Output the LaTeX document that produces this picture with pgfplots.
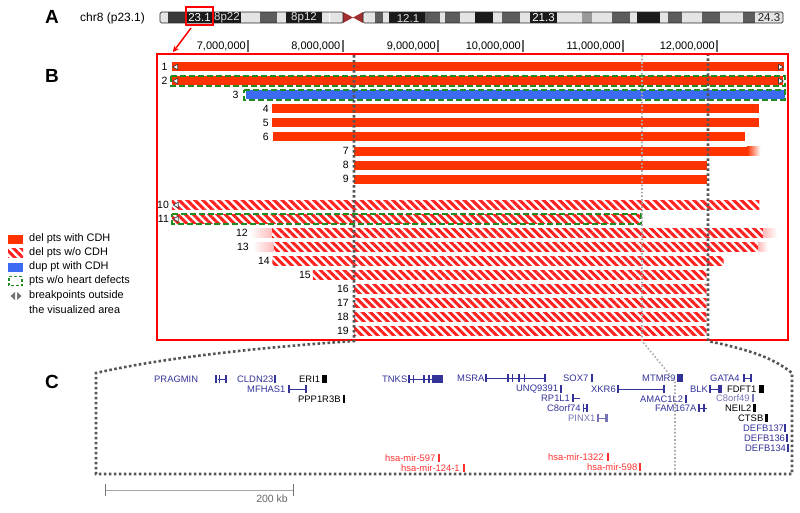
\documentclass[border=0pt]{standalone}
\usepackage{pgfplots}
\pgfplotsset{compat=1.18}
\usetikzlibrary{patterns.meta,arrows.meta}
\usepackage{fontspec}
\setmainfont{Liberation Sans}
\definecolor{bred}{HTML}{FF3300}
\definecolor{hred}{HTML}{FF2020}
\definecolor{bblue}{HTML}{3A6BF0}
\definecolor{dgreen}{HTML}{1E8C1E}
\definecolor{gblue}{HTML}{333399}
\definecolor{gpurp}{HTML}{7474B4}
\definecolor{mred}{HTML}{FF3030}
\definecolor{dotd}{HTML}{555555}
\definecolor{dotl}{HTML}{AAAAAA}
\definecolor{ilight}{HTML}{E4E4E4}
\definecolor{igray}{HTML}{5C5C5C}
\definecolor{idark}{HTML}{3A3A3A}
\definecolor{iblack}{HTML}{1A1A1A}
\definecolor{imid}{HTML}{9A9A9A}
\definecolor{cenred}{HTML}{A03030}
\tikzset{hatch/.style={draw=none, fill=white, postaction={pattern={Lines[angle=-45,distance=5.6pt,line width=3pt]}, pattern color=hred}}}
\pgfplotsset{canvas/.style={at={(0,0)}, anchor=south west, scale only axis, width=800pt, height=512pt, hide axis, clip=false, y dir=reverse}}
\newcommand{\gf}{\fontsize{9.4}{10}\selectfont}
\newcommand{\rf}{\fontsize{10.5}{12}\selectfont}
\newcommand{\lf}{\fontsize{10.9}{12}\selectfont}
\newcommand{\tf}{\fontsize{11}{12}\selectfont}
\newcommand{\chband}[3]{\addplot[#3, line width=11pt] coordinates {(#1,17.5) (#2,17.5)};}
\newcommand{\GB}[4]{\addplot[#4, line width=8pt] coordinates {(#1,#3) (#2,#3)};}
\newcommand{\GL}[4]{\addplot[#4, line width=0.8pt] coordinates {(#1,#3) (#2,#3)};}
\newcommand{\GT}[4]{\node[anchor=west, inner sep=0, text=#3, font=\gf] at (axis cs:#1,#2) {#4};}
\newcommand{\TK}[3]{\draw[black!60, line width=1.8pt] (axis cs:#1,40) -- (axis cs:#1,52);
  \node[anchor=east, inner sep=0, font=\tf] at (axis cs:#2,46) {#3};}
\newcommand{\RL}[3]{\node[anchor=east, inner sep=0, font=\rf] at (axis cs:#1,#2) {#3};}
\begin{document}
\begin{tikzpicture}
% ===== canvas background (pixel coordinates) =====
\begin{axis}[canvas, xmin=0, xmax=800, ymin=0, ymax=512]
\path (axis cs:0,0) rectangle (axis cs:800,512);
\node[font=\bfseries\fontsize{19}{19}\selectfont] at (axis cs:52,17) {A};
\node[font=\bfseries\fontsize{19}{19}\selectfont] at (axis cs:52,76) {B};
\node[font=\bfseries\fontsize{19}{19}\selectfont] at (axis cs:52,382) {C};
\node[anchor=west, inner sep=0, font=\fontsize{12}{14}\selectfont] at (axis cs:80,18) {chr8 (p23.1)};
% ideogram
\chband{160}{168}{ilight}
\chband{168}{186}{idark}
\chband{186}{213}{iblack}
\chband{213}{241}{iblack}
\chband{241}{260}{ilight}
\chband{260}{277}{igray}
\chband{277}{286}{ilight}
\chband{286}{322}{iblack}
\chband{322}{329}{ilight}
\chband{330}{343}{ilight}
\chband{363}{375}{ilight}
\chband{375}{383}{igray}
\chband{383}{389}{ilight}
\chband{389}{425}{iblack}
\chband{425}{440}{igray}
\chband{440}{445}{ilight}
\chband{445}{460}{igray}
\chband{460}{475}{ilight}
\chband{475}{493}{iblack}
\chband{493}{502}{ilight}
\chband{502}{520}{igray}
\chband{520}{530}{ilight}
\chband{530}{557}{iblack}
\chband{557}{582}{ilight}
\chband{582}{592}{imid}
\chband{592}{612}{ilight}
\chband{612}{630}{igray}
\chband{630}{637}{ilight}
\chband{637}{660}{iblack}
\chband{660}{668}{ilight}
\chband{668}{682}{igray}
\chband{682}{702}{ilight}
\chband{702}{720}{igray}
\chband{720}{743}{ilight}
\chband{743}{755}{igray}
\chband{755}{783}{ilight}
\addplot[fill=cenred, draw=none] coordinates {(343,12) (353,17.5) (343,23)} --cycle;
\addplot[fill=cenred, draw=none] coordinates {(363,12) (353,17.5) (363,23)} --cycle;
\draw[black!85, line width=0.7pt, rounded corners=1.5pt] (axis cs:160,12) rectangle (axis cs:343,23);
\draw[black!85, line width=0.7pt, rounded corners=1.5pt] (axis cs:363,12) rectangle (axis cs:783,23);
\node[text=white, inner sep=0, font=\fontsize{11.5}{12}\selectfont] at (axis cs:199.5,18) {23.1};
\node[text=black!12, inner sep=0, font=\fontsize{11.5}{12}\selectfont] at (axis cs:227,18) {8p22};
\node[text=black!12, inner sep=0, font=\fontsize{11.5}{12}\selectfont] at (axis cs:304,18) {8p12};
\node[text=black!12, inner sep=0, font=\fontsize{11.5}{12}\selectfont] at (axis cs:408,18) {12.1};
\node[text=white, inner sep=0, font=\fontsize{11.5}{12}\selectfont] at (axis cs:543.5,18) {21.3};
\node[text=black!85, inner sep=0, font=\fontsize{11.5}{12}\selectfont] at (axis cs:769,18) {24.3};
\draw[red, line width=1.5pt] (axis cs:186,7) rectangle (axis cs:213,25);
\draw[red, line width=1.5pt, -{Stealth[length=6pt,width=6pt]}] (axis cs:191,28) -- (axis cs:173,52);
% position ticks
\TK{248.3}{246}{7,000,000}
\TK{342.7}{340.5}{8,000,000}
\TK{438}{436}{9,000,000}
\TK{523}{521}{10,000,000}
\TK{623}{621}{11,000,000}
\TK{717}{715}{12,000,000}
% legend
\addplot[bred, line width=9pt] coordinates {(8,239) (23,239)};
\addplot[hatch] coordinates {(8,248) (23,248) (23,257) (8,257)} --cycle;
\addplot[bblue, line width=9pt] coordinates {(8,267) (23,267)};
\addplot[draw=dgreen, line width=1.3pt, dash pattern=on 3pt off 2pt] coordinates {(9,276.5) (22,276.5) (22,285.5) (9,285.5)} --cycle;
\addplot[fill=black!55, draw=none] coordinates {(15,292) (15,300) (10.5,296)} --cycle;
\addplot[fill=black!55, draw=none] coordinates {(17,292) (17,300) (21.5,296)} --cycle;
\node[anchor=west, inner sep=0, font=\lf] at (axis cs:29,239) {del pts with CDH};
\node[anchor=west, inner sep=0, font=\lf] at (axis cs:29,253) {del pts w/o CDH};
\node[anchor=west, inner sep=0, font=\lf] at (axis cs:29,267) {dup pt with CDH};
\node[anchor=west, inner sep=0, font=\lf] at (axis cs:29,281) {pts w/o heart defects};
\node[anchor=west, inner sep=0, font=\lf] at (axis cs:29,296) {breakpoints outside};
\node[anchor=west, inner sep=0, font=\lf] at (axis cs:29,310) {the visualized area};
% panel C genes
\GT{154}{379}{gblue}{PRAGMIN}
\GT{237}{379}{gblue}{CLDN23}
\GT{299}{379}{black}{ERI1}
\GT{247}{389}{gblue}{MFHAS1}
\GT{298}{399}{black}{PPP1R3B}
\GT{382}{379}{gblue}{TNKS}
\GT{457}{378}{gblue}{MSRA}
\GT{563}{378}{gblue}{SOX7}
\GT{516}{389}{gblue}{UNQ9391}
\GT{541}{398}{gblue}{RP1L1}
\GT{547}{408}{gblue}{C8orf74}
\GT{568}{418}{gpurp}{PINX1}
\GT{591}{389}{gblue}{XKR6}
\GT{642}{378}{gblue}{MTMR9}
\GT{640}{399}{gblue}{AMAC1L2}
\GT{655}{408}{gblue}{FAM167A}
\GT{690}{389}{gblue}{BLK}
\GT{710}{378}{gblue}{GATA4}
\GT{727}{389}{black}{FDFT1}
\GT{716}{398}{gpurp}{C8orf49}
\GT{725}{408}{black}{NEIL2}
\GT{738}{418}{black}{CTSB}
\GT{743}{428}{gblue}{DEFB137}
\GT{744}{438}{gblue}{DEFB136}
\GT{745}{448}{gblue}{DEFB134}
\GT{385}{458}{mred}{hsa-mir-597}
\GT{401}{468}{mred}{hsa-mir-124-1}
\GT{548}{457}{mred}{hsa-mir-1322}
\GT{587}{467}{mred}{hsa-mir-598}
% gene glyphs
\GB{215}{217}{379}{gblue}\GB{218.5}{220}{379}{gblue}\GL{218}{226}{379}{gblue}\GB{225}{227}{379}{gblue}
\GB{274}{276}{379}{gblue}
\GB{322}{327}{379}{black}
\GL{288}{306}{389}{gblue}\GB{288}{290}{389}{gblue}\GB{305}{307}{389}{gblue}
\GB{343}{345}{399}{black}
\GL{408}{443}{379}{gblue}\GB{408}{410}{379}{gblue}\GB{413}{414}{379}{gblue}\GB{423}{425}{379}{gblue}\GB{428}{430}{379}{gblue}\GB{432}{443}{379}{gblue}
\GL{485}{545}{378}{gblue}\GB{485}{487}{378}{gblue}\GB{507}{509}{378}{gblue}\GB{512}{513}{378}{gblue}\GB{518}{520}{378}{gblue}\GB{524}{525}{378}{gblue}\GB{544}{546}{378}{gblue}
\GB{591}{593}{378}{gblue}
\GB{560}{562}{389}{gblue}
\GL{572}{580}{398}{gblue}\GB{572}{574}{398}{gblue}
\GL{583}{587}{408}{gblue}\GB{583}{584}{408}{gblue}\GB{586}{587.5}{408}{gblue}
\GL{597}{608}{418}{gpurp}\GB{597}{598.5}{418}{gpurp}\GB{605}{608}{418}{gpurp}
\GL{617}{665}{389}{gblue}\GB{617}{619}{389}{gblue}\GB{663}{665}{389}{gblue}
\GB{677}{683}{378}{gblue}
\GB{685}{686.5}{399}{gblue}
\GL{698}{707}{408}{gblue}\GB{698}{699.5}{408}{gblue}\GB{703}{705}{408}{gblue}
\GL{709}{722}{389}{gblue}\GB{709}{710.5}{389}{gblue}\GB{718}{722}{389}{gblue}
\GL{743}{752}{378}{gblue}\GB{743}{745}{378}{gblue}\GB{750}{752}{378}{gblue}
\GB{759}{764}{389}{black}
\GB{752}{753.5}{398}{gpurp}
\GB{753}{756}{408}{black}
\GB{765}{768}{418}{black}
\GB{784}{785.5}{428}{gblue}
\GB{786}{787.5}{438}{gblue}
\GB{787}{788.5}{448}{gblue}
\GB{438}{439.5}{458}{mred}
\GB{463}{464.5}{468}{mred}
\GB{607}{608.5}{457}{mred}
\GB{639}{640.5}{467}{mred}
% scale bar
\draw[black!35, line width=0.6pt] (axis cs:105,490) -- (axis cs:293,490);
\draw[black!55, line width=0.8pt] (axis cs:105,484) -- (axis cs:105,496);
\draw[black!55, line width=0.8pt] (axis cs:293,484) -- (axis cs:293,496);
\node[anchor=east, inner sep=0, text=black!60, font=\fontsize{10.5}{12}\selectfont] at (axis cs:288,499) {200 kb};
\end{axis}
% ===== panel B data (x in Mb, y in rows) =====
\begin{axis}[canvas, xmin=4.361702, xmax=12.872340, ymin=-3.785714, ymax=32.785714]
\addplot[bred, line width=9pt] coordinates {(6.19,1) (12.70,1)};
\addplot[bred, line width=9pt] coordinates {(6.19,2) (12.69,2)};
\addplot[bblue, line width=9pt] coordinates {(6.98,3) (12.71,3)};
\addplot[bred, line width=9pt] coordinates {(7.255,4) (12.44,4)};
\addplot[bred, line width=9pt] coordinates {(7.255,5) (12.44,5)};
\addplot[bred, line width=9pt] coordinates {(7.27,6) (12.29,6)};
\addplot[bred, line width=9pt] coordinates {(8.13,7) (12.31,7)};
\addplot[draw=none, left color=bred, right color=white] coordinates {(12.31,6.68) (12.45,6.68) (12.45,7.32) (12.31,7.32)} --cycle;
\addplot[bred, line width=9pt] coordinates {(8.13,8) (11.88,8)};
\addplot[bred, line width=9pt] coordinates {(8.13,9) (11.88,9)};
\addplot[hatch] coordinates {(6.19,10.537) (12.44,10.537) (12.44,11.177) (6.19,11.177)} --cycle;
\addplot[hatch] coordinates {(6.19,11.537) (11.17,11.537) (11.17,12.177) (6.19,12.177)} --cycle;
\addplot[hatch] coordinates {(7.255,12.537) (12.48,12.537) (12.48,13.177) (7.255,13.177)} --cycle;
\addplot[draw=none, left color=white, right color=hred!30] coordinates {(7.02,12.537) (7.255,12.537) (7.255,13.177) (7.02,13.177)} --cycle;
\addplot[draw=none, left color=hred!30, right color=white] coordinates {(12.48,12.537) (12.63,12.537) (12.63,13.177) (12.48,13.177)} --cycle;
\addplot[hatch] coordinates {(7.27,13.537) (12.43,13.537) (12.43,14.177) (7.27,14.177)} --cycle;
\addplot[draw=none, left color=white, right color=hred!30] coordinates {(7.05,13.537) (7.27,13.537) (7.27,14.177) (7.05,14.177)} --cycle;
\addplot[draw=none, left color=hred!30, right color=white] coordinates {(12.43,13.537) (12.53,13.537) (12.53,14.177) (12.43,14.177)} --cycle;
\addplot[hatch] coordinates {(7.26,14.537) (12.06,14.537) (12.06,15.177) (7.26,15.177)} --cycle;
\addplot[hatch] coordinates {(7.69,15.537) (11.88,15.537) (11.88,16.177) (7.69,16.177)} --cycle;
\addplot[hatch] coordinates {(8.13,16.537) (11.88,16.537) (11.88,17.177) (8.13,17.177)} --cycle;
\addplot[hatch] coordinates {(8.13,17.537) (11.88,17.537) (11.88,18.177) (8.13,18.177)} --cycle;
\addplot[hatch] coordinates {(8.13,18.537) (11.88,18.537) (11.88,19.177) (8.13,19.177)} --cycle;
\addplot[hatch] coordinates {(8.13,19.537) (11.88,19.537) (11.88,20.177) (8.13,20.177)} --cycle;
% patients without heart defects
\addplot[draw=dgreen, line width=2.2pt, dash pattern=on 6pt off 3pt] coordinates {(6.18,1.64) (12.71,1.64) (12.71,2.36) (6.18,2.36)} --cycle;
\addplot[draw=dgreen, line width=2.2pt, dash pattern=on 6pt off 3pt] coordinates {(6.96,2.64) (12.71,2.64) (12.71,3.36) (6.96,3.36)} --cycle;
\addplot[draw=dgreen, line width=2.2pt, dash pattern=on 6pt off 3pt] coordinates {(6.195,11.497) (11.18,11.497) (11.18,12.217) (6.195,12.217)} --cycle;
% breakpoints outside area
\addplot[only marks, mark=triangle*, mark size=3.3pt, mark options={rotate=90, fill=white, draw=black!75, line width=0.7pt}] coordinates {(6.235,1) (6.235,2) (6.24,10.857) (6.24,11.857)};
\addplot[only marks, mark=triangle*, mark size=3.3pt, mark options={rotate=-90, fill=white, draw=black!75, line width=0.7pt}] coordinates {(12.66,1) (12.66,2)};
% row labels
\RL{6.145}{1}{1}
\RL{6.145}{2}{2}
\RL{6.9}{3}{3}
\RL{7.223}{4}{4}
\RL{7.223}{5}{5}
\RL{7.223}{6}{6}
\RL{8.074}{7}{7}
\RL{8.074}{8}{8}
\RL{8.074}{9}{9}
\RL{6.16}{10.857}{10}
\RL{6.16}{11.857}{11}
\RL{7.0}{12.857}{12}
\RL{7.011}{13.857}{13}
\RL{7.234}{14.857}{14}
\RL{7.67}{15.857}{15}
\RL{8.074}{16.857}{16}
\RL{8.074}{17.857}{17}
\RL{8.074}{18.857}{18}
\RL{8.074}{19.857}{19}
\end{axis}
% ===== canvas overlay =====
\begin{axis}[canvas, xmin=0, xmax=800, ymin=0, ymax=512]
\draw[red, line width=2pt] (axis cs:157,54) rectangle (axis cs:788,340);
\draw[dotl, line width=1.6pt, dash pattern=on 1.6pt off 2pt] (axis cs:642,55) -- (axis cs:642,341) -- (axis cs:675,381) -- (axis cs:675,474);
\draw[dotd, line width=2.6pt, dash pattern=on 2.6pt off 2.4pt] (axis cs:354,55) -- (axis cs:354,341) .. controls (axis cs:280,346) and (axis cs:170,356) .. (axis cs:96,373) -- (axis cs:96,474) -- (axis cs:792,474) -- (axis cs:792,373) .. controls (axis cs:770,355) and (axis cs:740,348) .. (axis cs:708,341) -- (axis cs:708,55);
\end{axis}
\end{tikzpicture}
\end{document}
